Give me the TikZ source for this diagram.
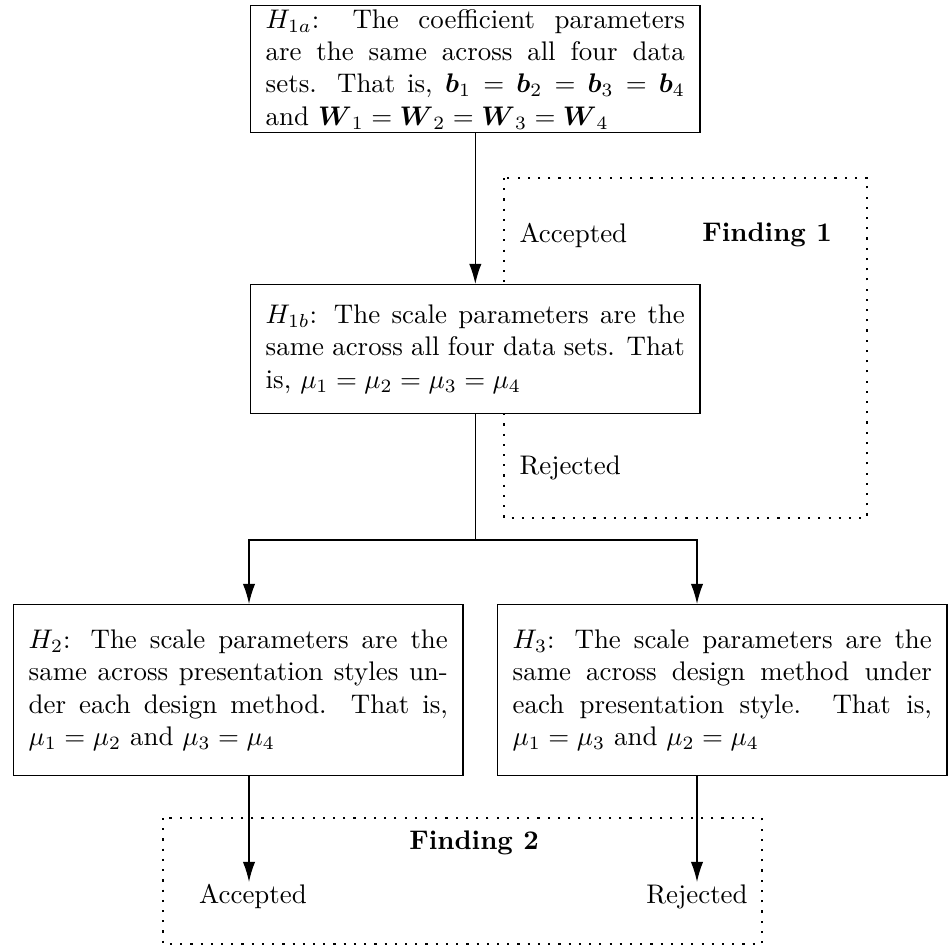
\documentclass[tikz,border=0pt]{standalone}
\usepackage{amsmath,amssymb}
\usetikzlibrary{arrows.meta}
\begin{document}
\begin{tikzpicture}[x=0.3717pt,y=-0.3717pt,
  hbox/.style={draw, line width=0.5pt, fill=white, text width=155.8pt,
    inner xsep=5.6pt, inner ysep=1pt, align=justify, anchor=north west},
  arr/.style={-{Latex[length=7.5pt,width=4.6pt]}, line width=0.5pt},
  plain/.style={line width=0.5pt},
  dotbox/.style={line width=0.8pt, dash pattern=on 0.8pt off 3pt},
  lab/.style={inner sep=0pt}]
\useasboundingbox (0,0) rectangle (951,947);

% dotted "finding" frames
\draw[dotbox] (504,178) rectangle (867,518);
\draw[dotbox] (163,818) rectangle (762,944);

% hypothesis boxes
\node[hbox, minimum height=47.2pt] (h1a) at (250,5)
 {$H_{1a}$: The coefficient parameters\linebreak
  are the same across all four data\linebreak
  sets. That is, $\boldsymbol{b}_1=\boldsymbol{b}_2=\boldsymbol{b}_3=\boldsymbol{b}_4$\linebreak
  and $\boldsymbol{W}_1=\boldsymbol{W}_2=\boldsymbol{W}_3=\boldsymbol{W}_4$};
\node[hbox, minimum height=48pt] (h1b) at (250,284)
 {$H_{1b}$: The scale parameters are the\linebreak
  same across all four data sets. That\linebreak
  is, $\mu_1=\mu_2=\mu_3=\mu_4$};
\node[hbox, minimum height=63.6pt] (h2) at (13,604)
 {$H_2$: The scale parameters are the\linebreak
  same across presentation styles un-\linebreak
  der each design method. That is,\linebreak
  $\mu_1=\mu_2$ and $\mu_3=\mu_4$};
\node[hbox, minimum height=63.6pt] (h3) at (497,604)
 {$H_3$: The scale parameters are the\linebreak
  same across design method under\linebreak
  each presentation style. That is,\linebreak
  $\mu_1=\mu_3$ and $\mu_2=\mu_4$};

% labels
\node[lab, anchor=west] (acc1) at (519,235) {Accepted};
\node[lab] (fin1) at (767,235) {\textbf{Finding 1}};
\node[lab, anchor=west] (rej1) at (519,468) {Rejected};
\node[lab] (fin2) at (474,843) {\textbf{Finding 2}};
\node[lab, anchor=north] (acc2) at (253,884) {Accepted};
\node[lab, anchor=north] (rej2) at (697,884) {Rejected};

% connectors
\coordinate (ly) at (0,540);
\coordinate (sl) at (249,540);
\coordinate (sr) at (697,540);
\coordinate (tip) at (0,882);
\draw[arr] (h1a.south) -- (h1b.north);
\draw[plain] (h1b.south) -- (h1b.south |- ly);
\draw[arr] (h1b.south |- ly) -- (sl) -- (sl |- h2.north);
\draw[arr] (h1b.south |- ly) -- (sr) -- (sr |- h3.north);
\draw[arr] (sl |- h2.south) -- (sl |- tip);
\draw[arr] (sr |- h3.south) -- (sr |- tip);
\end{tikzpicture}
\end{document}
